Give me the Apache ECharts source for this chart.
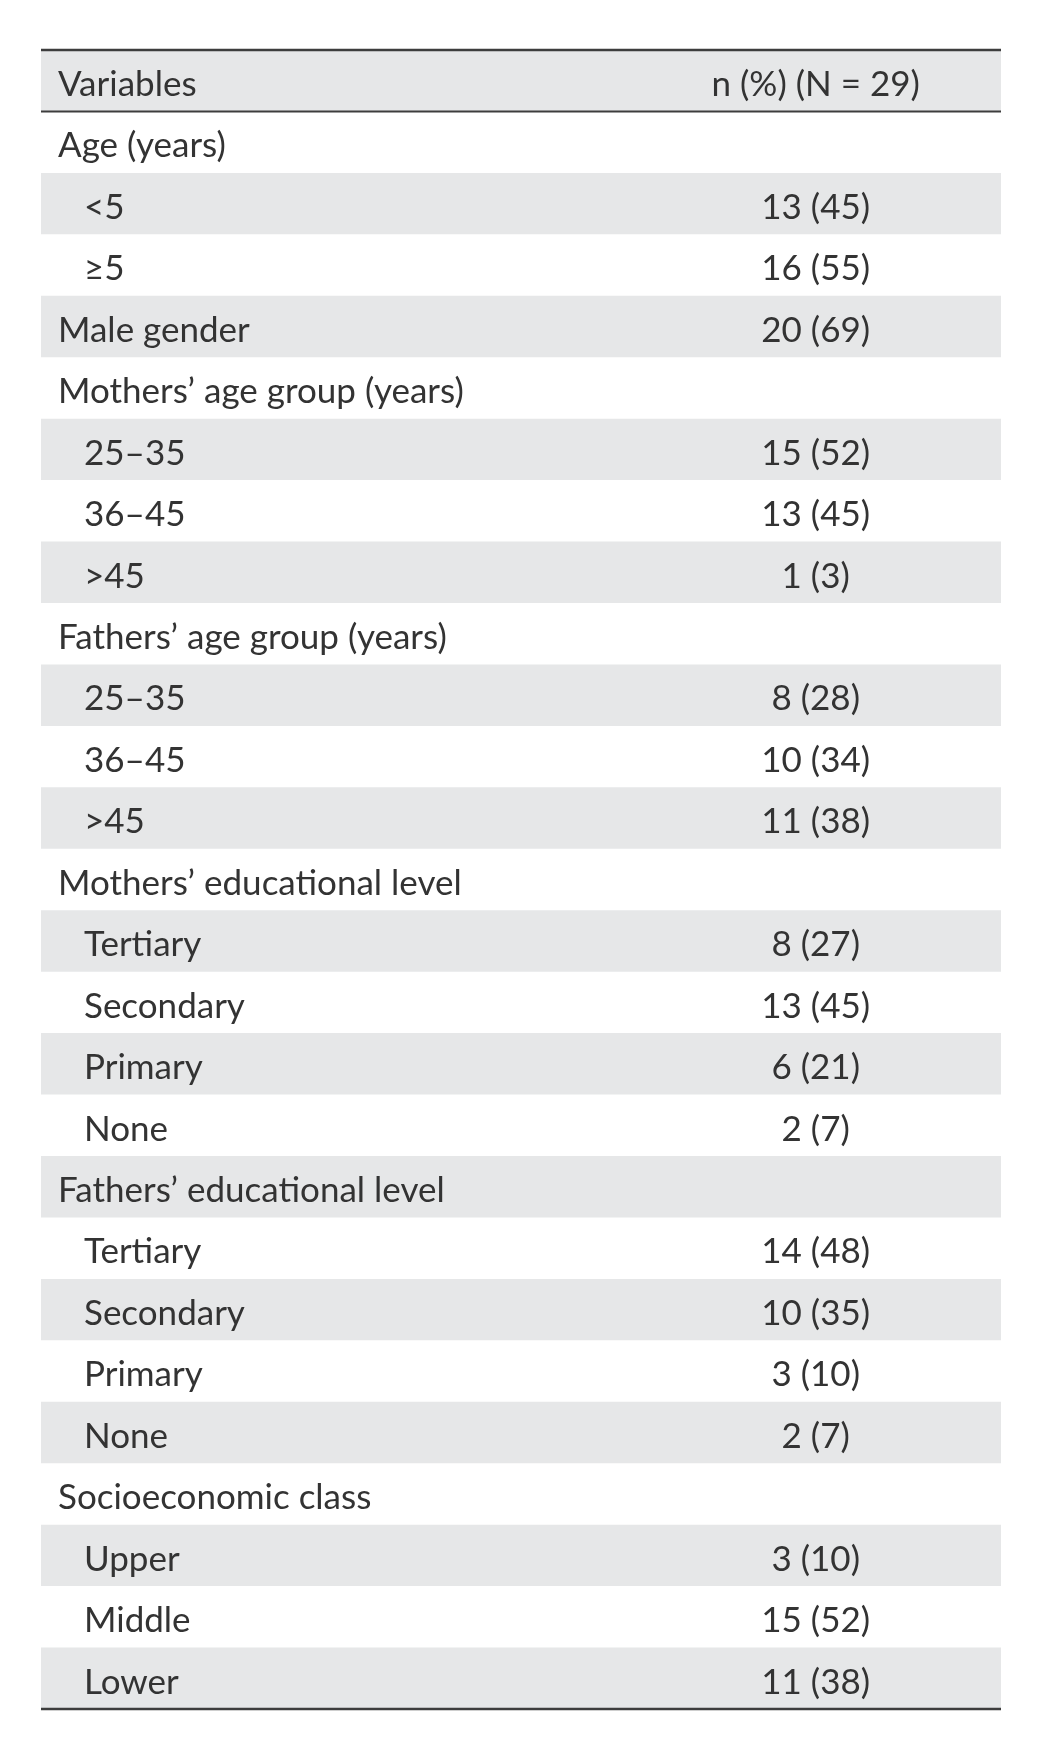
<!DOCTYPE html>
<html><head><meta charset="utf-8">
<script src="https://cdn.jsdelivr.net/npm/echarts@6/dist/echarts.min.js"></script>
<style>html,body{margin:0;padding:0;background:#fff}#chart{width:1042px;height:1760px}</style>
</head><body><div id="chart"></div>
<script>
const columnHeaders = ['Variables', 'n (%) (N = 29)'];
const rowLabels = ['Age (years)', '<5', '≥5', 'Male gender', 'Mothers’ age group (years)', '25–35', '36–45', '>45',
  'Fathers’ age group (years)', '25–35', '36–45', '>45', 'Mothers’ educational level', 'Tertiary', 'Secondary', 'Primary', 'None',
  'Fathers’ educational level', 'Tertiary', 'Secondary', 'Primary', 'None', 'Socioeconomic class', 'Upper', 'Middle', 'Lower'];
const rowLevels = [0, 1, 1, 0, 0, 1, 1, 1, 0, 1, 1, 1, 0, 1, 1, 1, 1, 0, 1, 1, 1, 1, 0, 1, 1, 1];
const counts = [null, 13, 16, 20, null, 15, 13, 1, null, 8, 10, 11, null, 8, 13, 6, 2, null, 14, 10, 3, 2, null, 3, 15, 11];
const percents = [null, 45, 55, 69, null, 52, 45, 3, null, 28, 34, 38, null, 27, 45, 21, 7, null, 48, 35, 10, 7, null, 10, 52, 38];

const rowKeys = ['header'].concat(rowLabels.map((_, i) => 'r' + i));
const tableData = rowKeys.map((k, i) => [0, i]);

const FONT = 'Lato';
const FS = 35;
const TEXT_COLOR = '#333333';
const GRAY = '#e6e7e8';
const LINE = '#3d3d3d';
const VALUE_X = 0.807;

const chart = echarts.init(document.getElementById('chart'), null, {renderer: 'canvas'});
chart.setOption({
  animation: false,
  backgroundColor: '#ffffff',
  grid: {left: 41, right: 41, top: 50, bottom: 51},
  xAxis: {type: 'value', min: 0, max: 1, show: false},
  yAxis: {type: 'category', data: rowKeys, inverse: true, show: false},
  series: [{
    type: 'custom',
    data: tableData,
    encode: {x: 0, y: 1},
    renderItem: function (params, api) {
      const i = params.dataIndex;
      const c = api.coord([0, i]);
      const h = api.size([0, 1])[1];
      const x0 = c[0];
      const x1 = api.coord([1, i])[0];
      const xv = api.coord([VALUE_X, i])[0];
      const yTop = c[1] - h / 2;
      const yBot = c[1] + h / 2;
      const ty = c[1] + 4;
      const children = [];
      const gray = (i % 2 === 0);
      if (gray) {
        children.push({type: 'rect', shape: {x: x0, y: yTop, width: x1 - x0, height: h}, style: {fill: GRAY}});
      }
      let label, value, indent;
      if (i === 0) {
        label = columnHeaders[0];
        value = columnHeaders[1];
        indent = 17;
      } else {
        const k = i - 1;
        label = rowLabels[k];
        value = counts[k] == null ? '' : counts[k] + ' (' + percents[k] + ')';
        indent = rowLevels[k] === 0 ? 17 : 43;
      }
      children.push({type: 'text', style: {x: x0 + indent, y: ty, text: label, fill: TEXT_COLOR,
        font: FS + 'px ' + FONT, textAlign: 'left', textVerticalAlign: 'middle'}});
      if (value) {
        children.push({type: 'text', style: {x: xv, y: ty, text: value, fill: TEXT_COLOR,
          font: FS + 'px ' + FONT, textAlign: 'center', textVerticalAlign: 'middle'}});
      }
      if (i === 0) {
        children.push({type: 'line', shape: {x1: x0, y1: yTop, x2: x1, y2: yTop}, style: {stroke: LINE, lineWidth: 2.5}});
        children.push({type: 'line', shape: {x1: x0, y1: yBot, x2: x1, y2: yBot}, style: {stroke: LINE, lineWidth: 2}});
      }
      if (i === rowKeys.length - 1) {
        children.push({type: 'line', shape: {x1: x0, y1: yBot, x2: x1, y2: yBot}, style: {stroke: LINE, lineWidth: 2.5}});
      }
      return {type: 'group', children: children};
    }
  }]
});
</script>
</body></html>
